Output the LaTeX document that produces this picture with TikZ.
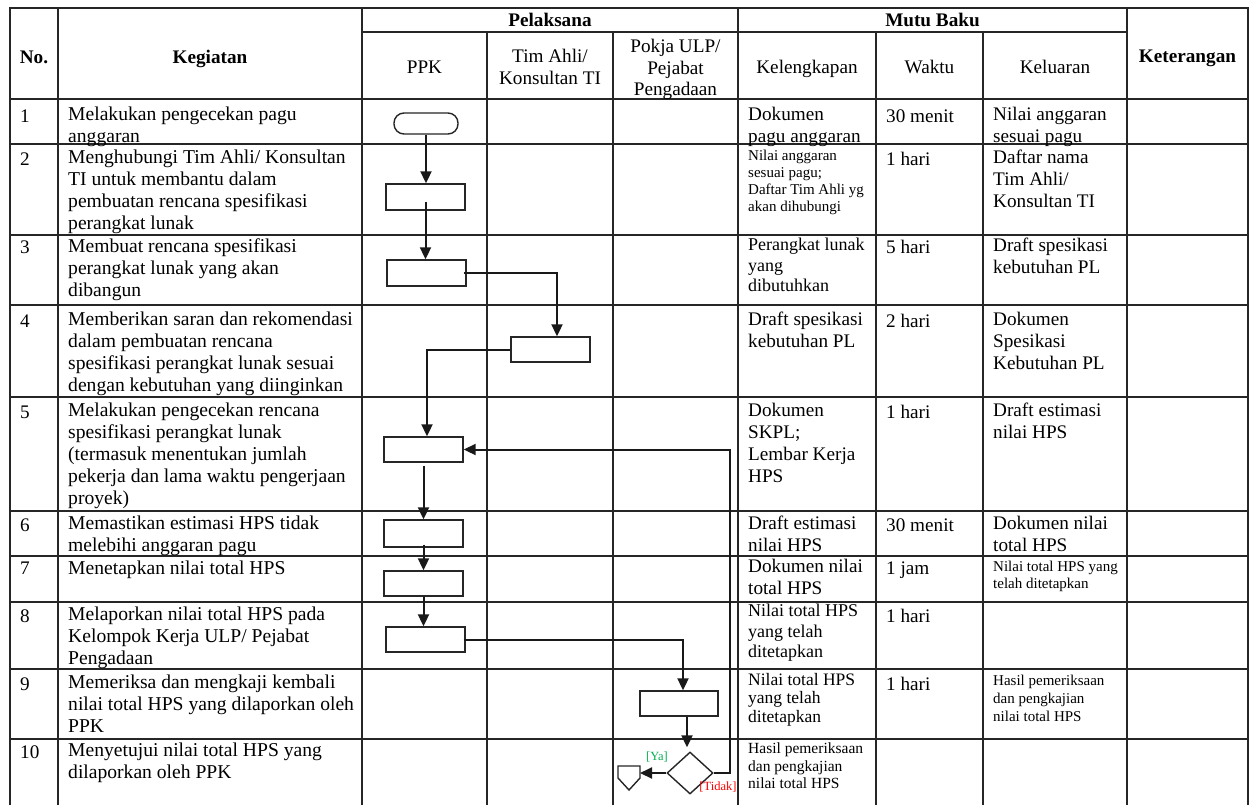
\documentclass[tikz,border=0pt]{standalone}
\usepackage{fontspec}
\setmainfont{Liberation Serif}
\usetikzlibrary{arrows.meta,shapes.geometric}
\definecolor{yagreen}{RGB}{0,176,80}
\definecolor{tidakred}{RGB}{255,0,0}
\begin{document}
\begin{tikzpicture}[x=1pt,y=-1pt,
  tab/.style={line width=1.3pt, draw=black!85, line cap=rect},
  cellt/.style={anchor=north west, inner sep=0pt, align=left, font=\fontsize{19.2}{22}\selectfont, execute at begin node=\strut},
  kegt/.style={cellt, font=\fontsize{19.6}{22}\selectfont},
  smallt/.style={cellt, font=\fontsize{15}{17}\selectfont},
  midt/.style={cellt, font=\fontsize{18}{20.5}\selectfont},
  hdr/.style={inner sep=0pt, align=center, font=\fontsize{19.2}{21.5}\selectfont, execute at begin node=\strut},
  hdrb/.style={hdr, font=\fontsize{19.2}{21.5}\selectfont\bfseries},
  fbox/.style={draw=black!85, line width=1.4pt, minimum width=79pt, minimum height=25pt, inner sep=0pt},
  arr/.style={line width=2pt, draw=black!90, -{Triangle[length=12pt,width=11pt]}},
  lbl/.style={inner sep=0pt, font=\fontsize{12.5}{14}\selectfont}
]
\useasboundingbox (0,0) rectangle (1250,804);
\fill[white] (0,0) rectangle (1250,804);

% ---- table grid ----
\draw[tab] (10,8) -- (1248,8);
\draw[tab] (362,32) -- (1127,32);
\foreach \y in {99,144,235,305,397,511,556,602,669,739} \draw[tab] (10,\y) -- (1248,\y);
\foreach \x in {10,58,362,738,1127,1248} \draw[tab] (\x,8) -- (\x,804);
\foreach \x in {487,613,876,983} \draw[tab] (\x,32) -- (\x,804);

% ---- headers ----
\node[hdrb, anchor=base] (hno) at (34,63.5) {No.};
\node[hdrb, anchor=base] (hkeg) at (210,63.5) {Kegiatan};
\node[hdrb, anchor=base] (hpel) at (550,26) {Pelaksana};
\node[hdrb, anchor=base] (hmutu) at (932.5,26) {Mutu Baku};
\node[hdrb, anchor=base] (hket) at (1187.5,62) {Keterangan};
\node[hdr, anchor=base] (hppk) at (424.5,73) {PPK};
\node[hdr, anchor=north] (htim) at (550,49) {Tim Ahli/\\Konsultan TI};
\node[hdr, anchor=north] (hpok) at (675.5,39) {Pokja ULP/\\Pejabat\\Pengadaan};
\node[hdr, anchor=base] (hkel) at (807,73) {Kelengkapan};
\node[hdr, anchor=base] (hwak) at (929.5,73) {Waktu};
\node[hdr, anchor=base] (hklu) at (1055,73) {Keluaran};

% ---- row 1 ----
\node[cellt] (n1) at (20,107) {1};
\node[kegt] (k1) at (68,107) {Melakukan pengecekan pagu\\anggaran};
\node[cellt] (l1) at (748,107) {Dokumen\\pagu anggaran};
\node[cellt] (w1) at (886,107) {30 menit};
\node[cellt] (o1) at (993,107) {Nilai anggaran\\sesuai pagu};
% ---- row 2 ----
\node[cellt] (n2) at (20,149.5) {2};
\node[kegt] (k2) at (68,149.5) {Menghubungi Tim Ahli/ Konsultan\\TI untuk membantu dalam\\pembuatan rencana spesifikasi\\perangkat lunak};
\node[smallt] (l2) at (748,150) {Nilai anggaran\\sesuai pagu;\\Daftar Tim Ahli yg\\akan dihubungi};
\node[cellt] (w2) at (886,149.5) {1 hari};
\node[cellt] (o2) at (993,149.5) {Daftar nama\\Tim Ahli/\\Konsultan TI};
% ---- row 3 ----
\node[cellt] (n3) at (20,238) {3};
\node[kegt] (k3) at (68,238) {Membuat rencana spesifikasi\\perangkat lunak yang akan\\dibangun};
\node[midt] (l3) at (748,238) {Perangkat lunak\\yang\\dibutuhkan};
\node[cellt] (w3) at (886,238) {5 hari};
\node[cellt] (o3) at (993,238) {Draft spesikasi\\kebutuhan PL};
% ---- row 4 ----
\node[cellt] (n4) at (20,312) {4};
\node[kegt] (k4) at (68,312) {Memberikan saran dan rekomendasi\\dalam pembuatan rencana\\spesifikasi perangkat lunak sesuai\\dengan kebutuhan yang diinginkan};
\node[cellt] (l4) at (748,312) {Draft spesikasi\\kebutuhan PL};
\node[cellt] (w4) at (886,312) {2 hari};
\node[cellt] (o4) at (993,312) {Dokumen\\Spesikasi\\Kebutuhan PL};
% ---- row 5 ----
\node[cellt] (n5) at (20,402.5) {5};
\node[kegt] (k5) at (68,402.5) {Melakukan pengecekan rencana\\spesifikasi perangkat lunak\\(termasuk menentukan jumlah\\pekerja dan lama waktu pengerjaan\\proyek)};
\node[cellt] (l5) at (748,402.5) {Dokumen\\SKPL;\\Lembar Kerja\\HPS};
\node[cellt] (w5) at (886,402.5) {1 hari};
\node[cellt] (o5) at (993,402.5) {Draft estimasi\\nilai HPS};
% ---- row 6 ----
\node[cellt] (n6) at (20,515.5) {6};
\node[kegt] (k6) at (68,515.5) {Memastikan estimasi HPS tidak\\melebihi anggaran pagu};
\node[cellt] (l6) at (748,515.5) {Draft estimasi\\nilai HPS};
\node[cellt] (w6) at (886,515.5) {30 menit};
\node[cellt] (o6) at (993,515.5) {Dokumen nilai\\total HPS};
% ---- row 7 ----
\node[cellt] (n7) at (20,559) {7};
\node[kegt] (k7) at (68,559) {Menetapkan nilai total HPS};
\node[cellt] (l7) at (748,559) {Dokumen nilai\\total HPS};
\node[cellt] (w7) at (886,559) {1 jam};
\node[smallt] (o7) at (993,561) {Nilai total HPS yang\\telah ditetapkan};
% ---- row 8 ----
\node[cellt] (n8) at (20,606.5) {8};
\node[kegt] (k8) at (68,606.5) {Melaporkan nilai total HPS pada\\Kelompok Kerja ULP/ Pejabat\\Pengadaan};
\node[midt] (l8) at (748,604) {Nilai total HPS\\yang telah\\ditetapkan};
\node[cellt] (w8) at (886,606.5) {1 hari};
% ---- row 9 ----
\node[cellt] (n9) at (20,674.5) {9};
\node[kegt] (k9) at (68,674.5) {Memeriksa dan mengkaji kembali\\nilai total HPS yang dilaporkan oleh\\PPK};
\node[midt, font=\fontsize{17.5}{18.5}\selectfont] (l9) at (748,673) {Nilai total HPS\\yang telah\\ditetapkan};
\node[cellt] (w9) at (886,674.5) {1 hari};
\node[smallt, font=\fontsize{15}{18}\selectfont] (o9) at (993,675) {Hasil pemeriksaan\\dan pengkajian\\nilai total HPS};
% ---- row 10 ----
\node[cellt] (n10) at (20,742.5) {10};
\node[kegt] (k10) at (68,742.5) {Menyetujui nilai total HPS yang\\dilaporkan oleh PPK};
\node[smallt, font=\fontsize{15.5}{17.5}\selectfont] (l10) at (748,743) {Hasil pemeriksaan\\dan pengkajian\\nilai total HPS};

% ---- flowchart shapes ----
\node[draw=black!85, line width=1.4pt, rounded corners=10pt, minimum width=64pt, minimum height=21pt, inner sep=0pt] (t1) at (426,123.5) {};
\node[fbox, minimum height=26pt] (b2) at (425.5,197) {};
\node[fbox, minimum height=26pt] (b3) at (426.5,273) {};
\node[fbox] (b4) at (550.5,349.5) {};
\node[fbox] (b5) at (423.5,449.5) {};
\node[fbox, minimum height=27pt] (b6) at (423.5,533.5) {};
\node[fbox] (b7) at (423.5,583.5) {};
\node[fbox] (b8) at (425.5,639.5) {};
\node[fbox, minimum width=78pt] (b9) at (679,703.5) {};
\node[draw=black!85, line width=1.4pt, diamond, minimum width=46pt, minimum height=42pt, inner sep=0pt] (d10) at (690,773) {};
\coordinate (p10) at (640,773);
\draw[line width=1.4pt, draw=black!85, line join=miter] (618,766) -- (640,766) -- (640,778) -- (629,790) -- (618,778) -- cycle;

% ---- connectors ----
\draw[arr] (t1.south) -- (t1.south |- b2.north);
\draw[arr] ([yshift=-5pt]b2.center) -- (b2.center |- b3.north);
\draw[arr] ([xshift=-3pt]b3.east) -| ([xshift=6.5pt]b4.north);
\draw[arr] (b4.west) -| ([xshift=3.5pt]b5.north);
\draw[arr] (d10.east) -- ++(16,0) |- (b5.east);
\draw[arr] ([yshift=-3pt]b5.south) -- (b6.north);
\draw[arr] ([yshift=3pt]b6.south) -- (b7.north);
\draw[arr] (b7.south) -- (b7.south |- b8.north);
\draw[arr] ([xshift=-2pt]b8.east) -| ([xshift=4pt]b9.north);
\draw[arr] ([xshift=8pt]b9.south) -- ([xshift=8pt,yshift=4pt]b9.south |- d10.north);
\draw[arr] (d10.west) -- (p10);

\node[lbl, text=yagreen] (ya) at (657,757) {[Ya]};
\node[lbl, text=tidakred] (tidak) at (718,787) {[Tidak]};
\end{tikzpicture}
\end{document}
